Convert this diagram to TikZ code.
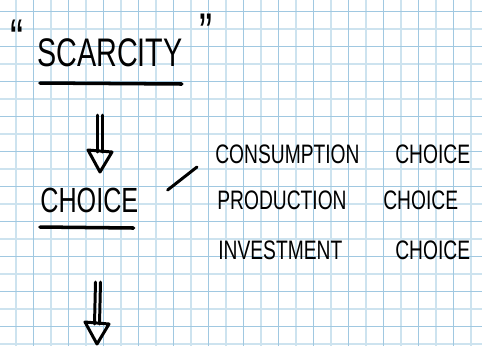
\documentclass[tikz,border=0pt]{standalone}
\usepackage{fontspec}
\newfontfamily\hand[FakeStretch=0.72]{Liberation Sans}
\usetikzlibrary{calc}
\definecolor{gridthin}{RGB}{160,200,225}
\definecolor{gridthick}{RGB}{205,227,239}
% double shaft arrow with open head, #1 = start, #2 = tip
\newcommand{\dblarrow}[2]{%
    \draw[pen] ($(#1)+(-2.5,0)$) -- ($(#2)+(-2.5,-20)$);
    \draw[pen] ($(#1)+(2.5,0)$) -- ($(#2)+(2.5,-20)$);
    \draw[pen] ($(#2)+(-12,-22)$) -- ($(#2)+(12,-20)$) -- (#2) -- cycle;
}
\begin{document}
\begin{tikzpicture}[x=0.02cm, y=-0.02cm,
        pen/.style={line width=1.7pt, line cap=round, line join=round},
        word/.style={inner sep=0pt, anchor=base west},
        listfont/.style={font=\hand\fontsize{15.2}{18}\selectfont},
        thinline/.style={gridthin, line width=0.6pt},
        thickline/.style={gridthick, line width=1.1pt}]
    \useasboundingbox (0,0) rectangle (482,346);
    \fill[white] (0,0) rectangle (482,346);
    % squared paper
    \foreach \k [evaluate=\k as \gx using 15.8+17.5*\k] in {0,2,...,26}
        \draw[thickline] (\gx,0) -- (\gx,346);
    \foreach \k [evaluate=\k as \gy using 11.7+17.5*\k] in {1,3,...,19}
        \draw[thickline] (0,\gy) -- (482,\gy);
    \foreach \k [evaluate=\k as \gx using 15.8+17.5*\k] in {1,3,...,25}
        \draw[thinline] (\gx,0) -- (\gx,346);
    \foreach \k [evaluate=\k as \gy using 11.7+17.5*\k] in {0,2,...,18}
        \draw[thinline] (0,\gy) -- (482,\gy);

    \node[word, font=\hand\fontsize{22.7}{26}\selectfont] (scarcity) at (37,66) {SCARCITY};
    \node[word, font=\hand\fontsize{31}{34}\selectfont] (lquote) at (10,57.5) {“};
    \node[word, font=\hand\fontsize{31}{34}\selectfont] (rquote) at (199,51) {”};
    \draw[pen, line width=2pt] ($(scarcity.base west)+(3,17)$) -- ($(scarcity.base east)+(-1,18)$);

    \node[word, font=\hand\fontsize{19.9}{22}\selectfont] (choice) at (40,212) {CHOICE};
    \draw[pen, line width=2pt] ($(choice.base west)+(0,15)$) -- ($(choice.base east)+(-5,16)$);

    \node[word, listfont] (cons) at (215,163) {CONSUMPTION};
    \node[word, listfont] (consch) at (395,163) {CHOICE};
    \node[word, listfont] (prod) at (217,209) {PRODUCTION};
    \node[word, listfont] (prodch) at (383,209) {CHOICE};
    \node[word, listfont] (inv) at (218,259) {INVESTMENT};
    \node[word, listfont] (invch) at (395,259) {CHOICE};

    \draw[pen] ($(choice.base east)+(29,-22)$) -- ($(cons.base west)+(-18,4)$);

    \coordinate (a1) at (100,115);
    \coordinate (a1tip) at (100,172);
    \coordinate (a2) at (98,282);
    \coordinate (a2tip) at (97,344);
    \dblarrow{a1}{a1tip}
    \dblarrow{a2}{a2tip}
\end{tikzpicture}
\end{document}
